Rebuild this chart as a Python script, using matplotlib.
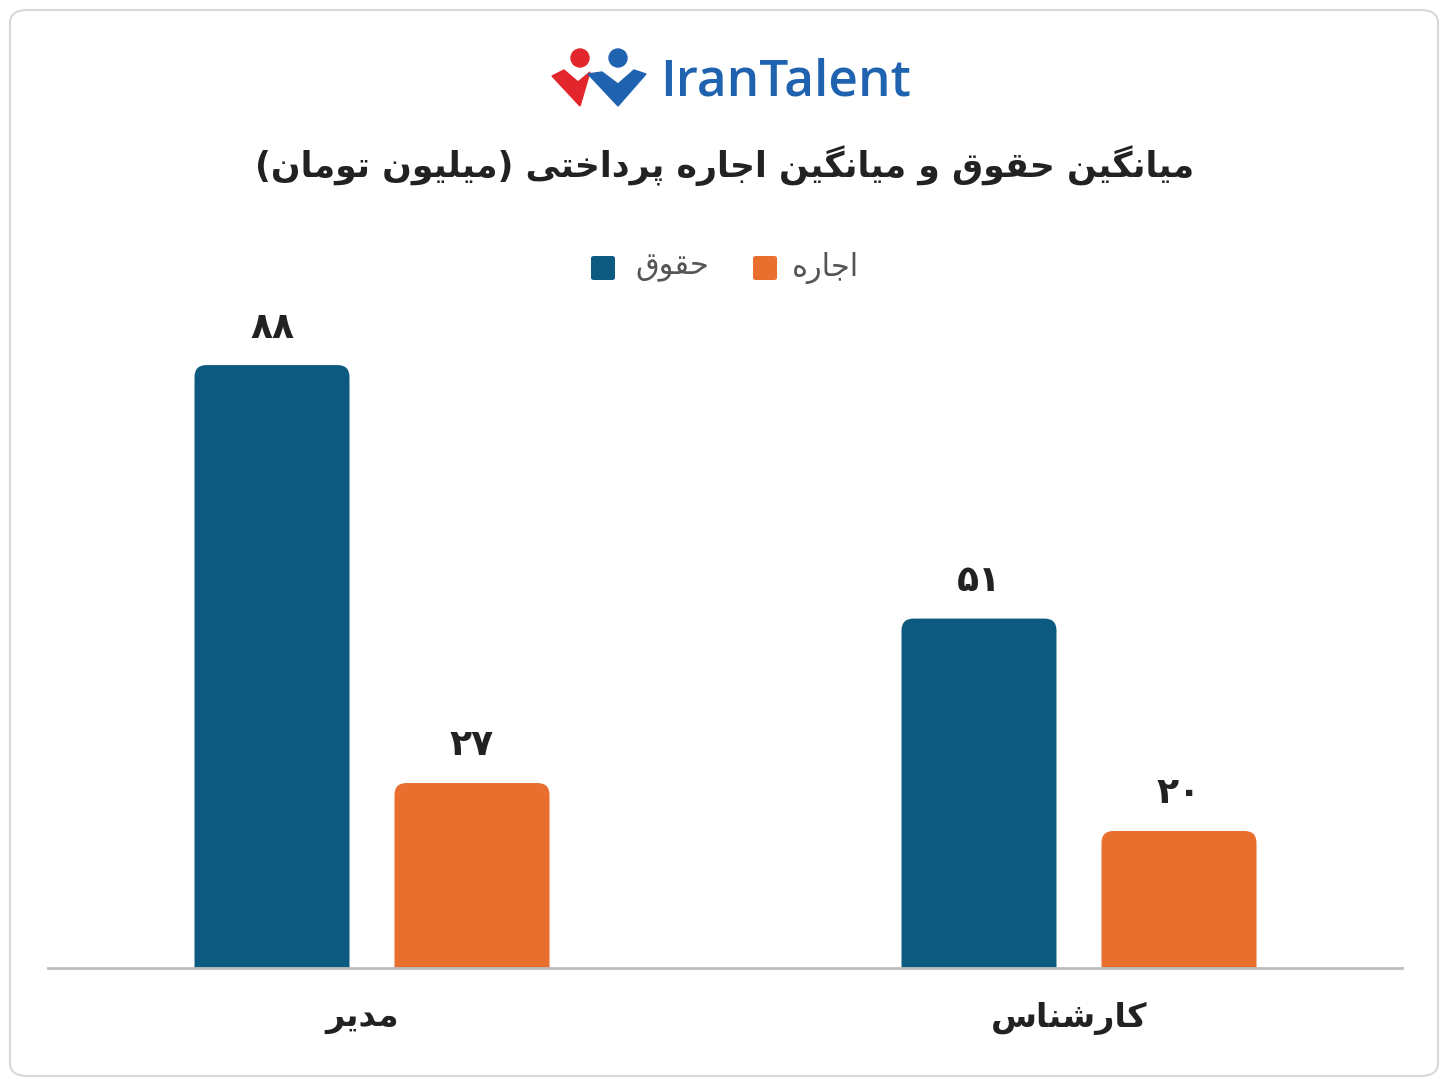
import matplotlib.pyplot as plt
from matplotlib.patches import FancyBboxPatch, Circle, Polygon

# simple Persian shaping: letter -> (isolated, final, initial, medial); None means no left join
FORMS = {
    "ا": ("\uFE8D", "\uFE8E", None, None),
    "پ": ("\uFB56", "\uFB57", "\uFB58", "\uFB59"),
    "ت": ("\uFE95", "\uFE96", "\uFE97", "\uFE98"),
    "ج": ("\uFE9D", "\uFE9E", "\uFE9F", "\uFEA0"),
    "ح": ("\uFEA1", "\uFEA2", "\uFEA3", "\uFEA4"),
    "خ": ("\uFEA5", "\uFEA6", "\uFEA7", "\uFEA8"),
    "د": ("\uFEA9", "\uFEAA", None, None),
    "ر": ("\uFEAD", "\uFEAE", None, None),
    "س": ("\uFEB1", "\uFEB2", "\uFEB3", "\uFEB4"),
    "ش": ("\uFEB5", "\uFEB6", "\uFEB7", "\uFEB8"),
    "ق": ("\uFED5", "\uFED6", "\uFED7", "\uFED8"),
    "ک": ("\uFB8E", "\uFB8F", "\uFB90", "\uFB91"),
    "گ": ("\uFB92", "\uFB93", "\uFB94", "\uFB95"),
    "ل": ("\uFEDD", "\uFEDE", "\uFEDF", "\uFEE0"),
    "م": ("\uFEE1", "\uFEE2", "\uFEE3", "\uFEE4"),
    "ن": ("\uFEE5", "\uFEE6", "\uFEE7", "\uFEE8"),
    "ه": ("\uFEE9", "\uFEEA", "\uFEEB", "\uFEEC"),
    "و": ("\uFEED", "\uFEEE", None, None),
    "ی": ("\uFBFC", "\uFBFD", "\uFBFE", "\uFBFF"),
}
MIRROR = {"(": ")", ")": "("}


def fa(text):
    out = []
    n = len(text)
    for i, ch in enumerate(text):
        if ch not in FORMS:
            out.append(MIRROR.get(ch, ch))
            continue
        prev = text[i - 1] if i > 0 else ""
        nxt = text[i + 1] if i < n - 1 else ""
        join_prev = prev in FORMS and FORMS[prev][2] is not None
        join_next = nxt in FORMS and FORMS[ch][2] is not None
        iso, fin, ini, med = FORMS[ch]
        if join_prev and join_next:
            out.append(med)
        elif join_prev:
            out.append(fin)
        elif join_next:
            out.append(ini)
        else:
            out.append(iso)
    return "".join(reversed(out))


categories = ["مدیر", "کارشناس"]
series_names = ["حقوق", "اجاره"]
salary = [88, 51]
rent = [27, 20]
salary_labels = ["۸۸", "۵۱"]
rent_labels = ["۲۷", "۲۰"]
title = "میانگین حقوق و میانگین اجاره پرداختی (میلیون تومان)"

BLUE = "#0d5a80"
ORANGE = "#e86f2d"
TEXT = "#222222"

fig = plt.figure(figsize=(14.48, 10.86), dpi=100)
fig.patch.set_facecolor("white")

# outer rounded frame
frame = FancyBboxPatch((10 / 1448, 10 / 1086), 1428 / 1448, 1066 / 1086,
                       boxstyle="round,pad=0,rounding_size=0.012",
                       transform=fig.transFigure, facecolor="none",
                       edgecolor="#d8d8d8", linewidth=1.5, zorder=-1)
fig.patches.append(frame)

ax = fig.add_axes([48 / 1448, (1086 - 968) / 1086, 1354 / 1448, 668 / 1086])
ax.set_xlim(48, 1402)
ax.set_ylim(0, 97.5)
ax.axis("off")
ax.axhline(0, color="#bdbdbd", linewidth=2, clip_on=False, zorder=3)

group_centers = [372, 1079]
offset = 100
bar_w = 155
aspect = 97.5 / 668


def rbar(xc, h, color):
    p = FancyBboxPatch((xc - bar_w / 2, -3), bar_w, h + 3,
                       boxstyle="round,pad=0,rounding_size=12",
                       mutation_aspect=aspect, facecolor=color, edgecolor="none")
    ax.add_patch(p)


for i, gc in enumerate(group_centers):
    rbar(gc - offset, salary[i], BLUE)
    rbar(gc + offset, rent[i], ORANGE)
    ax.text(gc - offset, salary[i] + 3, salary_labels[i], ha="center", va="bottom",
            fontsize=26, fontweight="bold", color=TEXT)
    ax.text(gc + offset, rent[i] + 3, rent_labels[i], ha="center", va="bottom",
            fontsize=26, fontweight="bold", color=TEXT)
    fig.text((gc - 10) / 1448, 1 - 1018 / 1086, fa(categories[i]), ha="center", va="center",
             fontsize=24, fontweight="bold", color=TEXT)

# title
fig.text(725 / 1448, 1 - 166 / 1086, fa(title), ha="center", va="center",
         fontsize=25, fontweight="bold", color=TEXT)

# legend
fig.patches.append(FancyBboxPatch((591 / 1448, 1 - 280 / 1086), 24 / 1448, 24 / 1086,
                                  boxstyle="round,pad=0,rounding_size=0.002",
                                  transform=fig.transFigure, facecolor=BLUE, edgecolor="none"))
fig.text(672 / 1448, 1 - 268 / 1086, fa(series_names[0]), ha="center", va="center",
         fontsize=22, color="#555555")
fig.patches.append(FancyBboxPatch((753 / 1448, 1 - 280 / 1086), 24 / 1448, 24 / 1086,
                                  boxstyle="round,pad=0,rounding_size=0.002",
                                  transform=fig.transFigure, facecolor=ORANGE, edgecolor="none"))
fig.text(826 / 1448, 1 - 268 / 1086, fa(series_names[1]), ha="center", va="center",
         fontsize=22, color="#555555")

# logo
lg = fig.add_axes([548 / 1448, 1 - 110 / 1086, 105 / 1448, 62 / 1086])
lg.set_xlim(0, 105)
lg.set_ylim(0, 62)
lg.set_aspect("equal")
lg.axis("off")
lg.add_patch(Circle((32, 52), 9, color="#e3262c"))
lg.add_patch(Polygon([[4, 34], [16, 40], [30, 28], [42, 38], [32, 4]], color="#e3262c"))
lg.add_patch(Circle((70, 52), 9, color="#1f63b0"))
lg.add_patch(Polygon([[40, 36], [54, 38], [70, 26], [86, 40], [98, 36], [70, 4]], color="#1f63b0"))
fig.text(660 / 1448, 1 - 82 / 1086, "IranTalent", ha="left", va="center",
         fontsize=37, color="#1f63b0", family="Open Sans", fontweight="semibold")

fig.savefig("out.png", dpi=100)
